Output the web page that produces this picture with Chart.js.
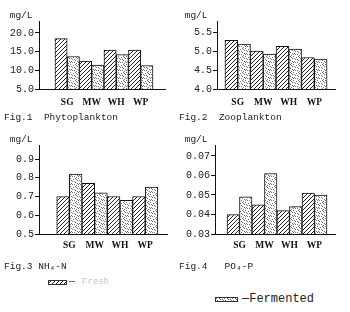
<!DOCTYPE html>
<html><head><meta charset="utf-8">
<script src="https://cdn.jsdelivr.net/npm/chart.js@4.4.1/dist/chart.umd.min.js"></script>
<style>
html,body{margin:0;padding:0;background:#fff;width:350px;height:312px;overflow:hidden}
body{position:relative}
.box{position:absolute}
.lg{position:absolute;font-family:"Liberation Mono","DejaVu Sans Mono",monospace;white-space:pre;line-height:12px}
</style></head><body>
<div class="box" style="left:0;top:0"><canvas id="c1" width="175" height="130"></canvas></div>
<div class="box" style="left:175px;top:0"><canvas id="c2" width="175" height="130"></canvas></div>
<div class="box" style="left:0;top:130px"><canvas id="c3" width="175" height="142"></canvas></div>
<div class="box" style="left:175px;top:130px"><canvas id="c4" width="175" height="142"></canvas></div>
<canvas id="sw1" class="box" width="19" height="5" style="left:48px;top:280px"></canvas>
<div class="lg" style="left:69px;top:276px;font-size:10px;color:#444">—</div>
<div class="lg" id="lt1" style="left:82px;top:276px;font-size:9px;color:#c8c8c8"></div>
<canvas id="sw2" class="box" width="23" height="5" style="left:215px;top:297px"></canvas>
<div class="lg" id="lt2" style="left:242px;top:293px;font-size:12px;color:#222"></div>
<script>
// ---- data ----
const categories = ["SG", "MW", "WH", "WP"];
const seriesNames = ["Fresh", "Fermented"];
const phytoFresh = [18.5, 12.5, 15.4, 15.4];
const phytoFermented = [13.7, 11.4, 14.2, 11.3];
const zooFresh = [5.28, 5.00, 5.12, 4.83];
const zooFermented = [5.18, 4.92, 5.05, 4.79];
const nh4Fresh = [0.70, 0.77, 0.70, 0.70];
const nh4Fermented = [0.82, 0.72, 0.68, 0.75];
const po4Fresh = [0.040, 0.045, 0.042, 0.051];
const po4Fermented = [0.049, 0.061, 0.044, 0.050];
const phytoTicks = [5, 10, 15, 20];
const zooTicks = [4.0, 4.5, 5.0, 5.5];
const nh4Ticks = [0.5, 0.6, 0.7, 0.8, 0.9];
const po4Ticks = [0.03, 0.04, 0.05, 0.06, 0.07];
const unitLabel = "mg/L";
const titles = ["Fig.1  Phytoplankton", "Fig.2  Zooplankton", "Fig.3 NH\u2084-N", "Fig.4   PO\u2084-P"];

// ---- patterns ----
function hatchPattern() {
  const t = document.createElement('canvas'); t.width = 4; t.height = 4;
  const g = t.getContext('2d');
  g.fillStyle = '#fff'; g.fillRect(0, 0, 4, 4);
  g.strokeStyle = '#222'; g.lineWidth = 1;
  g.beginPath(); g.moveTo(-1, 5); g.lineTo(5, -1); g.stroke();
  return g.createPattern(t, 'repeat');
}
function dotPattern() {
  const t = document.createElement('canvas'); t.width = 8; t.height = 8;
  const g = t.getContext('2d');
  g.fillStyle = '#fff'; g.fillRect(0, 0, 8, 8);
  g.fillStyle = '#777';
  [[1,1],[5,2],[3,4],[7,5],[0,6],[4,7],[6,0],[2,3],[6,6],[3,0],[0,3],[5,5],[2,6],[7,2],[4,1]].forEach(p => g.fillRect(p[0], p[1], 1, 1));
  return g.createPattern(t, 'repeat');
}
const HATCH = hatchPattern();
const DOTS = dotPattern();

const MONO = '"Liberation Mono","DejaVu Sans Mono",monospace';

function makeChart(id, fresh, ferm, ticks, yMin, yMax, dec, xMin, xMax, cfg) {
  const toXY = arr => arr.map((v, i) => ({ x: i + 1, y: v }));
  return new Chart(document.getElementById(id), {
    type: 'bar',
    data: {
      datasets: [
        { label: seriesNames[0], data: toXY(fresh), backgroundColor: HATCH, borderColor: '#111', borderWidth: 1, borderSkipped: 'bottom', categoryPercentage: 1, barPercentage: 1 },
        { label: seriesNames[1], data: toXY(ferm), backgroundColor: DOTS, borderColor: '#111', borderWidth: 1, borderSkipped: 'bottom', categoryPercentage: 1, barPercentage: 1 }
      ]
    },
    options: {
      responsive: false, animation: false, devicePixelRatio: 1,
      layout: { padding: { left: 4, right: cfg.right, top: 0, bottom: 0 } },
      plugins: {
        legend: { display: false }, tooltip: { enabled: false },
        title: { display: true, text: ' ' + unitLabel, align: 'start', color: '#222',
          font: { family: MONO, size: 9.5, weight: 'normal', lineHeight: '12px' },
          padding: { top: cfg.titleTop, bottom: 0 } },
        subtitle: { display: true, text: cfg.caption, position: 'bottom', align: 'start', color: '#222',
          font: { family: MONO, size: 9.5, weight: 'normal', lineHeight: '12px' },
          padding: { top: 0, bottom: cfg.capBottom } }
      },
      scales: {
        x: {
          type: 'linear', min: xMin, max: xMax, offset: false,
          afterBuildTicks: s => { s.ticks = categories.map((c, i) => ({ value: i + 1 })); },
          afterFit: s => { s.height = cfg.xH; },
          ticks: { autoSkip: false, maxRotation: 0, padding: cfg.xPad, color: '#111',
            font: { family: '"Liberation Serif","DejaVu Serif",serif', size: 9.5, weight: 'bold', lineHeight: '12px' },
            callback: v => categories[Math.round(v) - 1] },
          grid: { display: false, drawTicks: false, offset: false },
          border: { display: true, color: '#111', width: 1 }
        },
        y: {
          min: yMin, max: yMax,
          afterBuildTicks: s => { s.ticks = ticks.map(v => ({ value: v })); },
          afterFit: s => { s.width = cfg.yW; },
          ticks: { padding: 1, color: '#222', font: { family: MONO, size: 10, lineHeight: '12px' },
            callback: v => Number(v).toFixed(dec) },
          grid: { display: true, drawOnChartArea: false, drawTicks: true, tickLength: 4, color: '#111' },
          border: { display: true, color: '#111', width: 1 }
        }
      }
    }
  });
}

makeChart('c1', phytoFresh, phytoFermented, phytoTicks, 5, 23.2, 1, -0.15, 4.99,
  { right: 10, yW: 35, titleTop: 9, caption: titles[0], capBottom: 7, xH: 22, xPad: 8 });
makeChart('c2', zooFresh, zooFermented, zooTicks, 4, 5.79, 1, 0.19, 4.81,
  { right: 15, yW: 38, titleTop: 9, caption: titles[1], capBottom: 7, xH: 22, xPad: 8 });
makeChart('c3', nh4Fresh, nh4Fermented, nh4Ticks, 0.5, 0.975, 1, -0.2, 4.86,
  { right: 8, yW: 35, titleTop: 3, caption: titles[2], capBottom: 0, xH: 26, xPad: 6 });
makeChart('c4', po4Fresh, po4Fermented, po4Ticks, 0.03, 0.0756, 2, 0.02, 4.82,
  { right: 15, yW: 36, titleTop: 3, caption: titles[3], capBottom: 0, xH: 26, xPad: 6 });

// legend swatches
function swatch(id, pat) {
  const c = document.getElementById(id), g = c.getContext('2d');
  g.fillStyle = pat; g.fillRect(0, 0, c.width, c.height);
  g.strokeStyle = '#333'; g.lineWidth = 1; g.strokeRect(0.5, 0.5, c.width - 1, c.height - 1);
}
swatch('sw1', HATCH);
swatch('sw2', DOTS);
document.getElementById('lt1').textContent = seriesNames[0];
document.getElementById('lt2').textContent = '—' + seriesNames[1];
</script>
</body></html>
